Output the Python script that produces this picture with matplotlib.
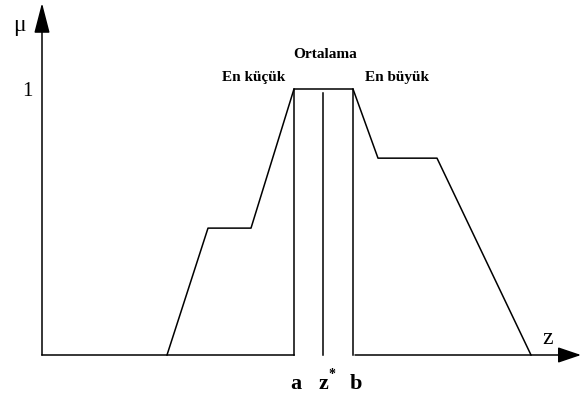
import matplotlib.pyplot as plt

# membership function outline (z, mu)
z_pts = [167, 208, 251, 294, 353, 378, 437, 531]
mu_pts = [0.0, 0.477, 0.477, 1.0, 1.0, 0.74, 0.74, 0.0]

# defuzzification markers
a_z, zstar_z, b_z = 294, 323, 353
zstar_top = 0.985

fig = plt.figure(figsize=(5.81, 3.98), dpi=100)
ax = fig.add_axes([0, 0, 1, 1])
ax.set_xlim(0, 581)
ax.set_ylim(-43 / 266, 355 / 266)
ax.axis('off')

lw = 1.1
ax.plot(z_pts, mu_pts, color='black', lw=lw)
ax.plot([a_z, a_z], [0, 1], color='black', lw=lw)
ax.plot([b_z, b_z], [0, 1], color='black', lw=lw)
ax.plot([zstar_z, zstar_z], [0, zstar_top], color='black', lw=lw)

# baseline, broken between a and b
ax.plot([42, a_z], [0, 0], color='black', lw=lw)
ax.annotate('', xy=(581, 0), xytext=(b_z + 2, 0), annotation_clip=False,
            arrowprops=dict(arrowstyle='-|>,head_length=0.65,head_width=0.22',
                            color='black', lw=lw,
                            mutation_scale=22, shrinkA=0, shrinkB=0))
# mu axis
ax.annotate('', xy=(42, 352 / 266), xytext=(42, 0), annotation_clip=False,
            arrowprops=dict(arrowstyle='-|>,head_length=0.85,head_width=0.22',
                            color='black', lw=lw,
                            mutation_scale=22, shrinkA=0, shrinkB=0))

serif = 'Liberation Serif'
ax.text(19, 330 / 266, 'μ', fontsize=17, family=serif, ha='center', va='center')
ax.text(27, 0.99, '1', fontsize=15, family=serif, ha='center', va='center')
ax.text(548, 17 / 266, 'z', fontsize=17, family=serif, ha='center', va='center')

ax.text(325, 300 / 266, 'Ortalama', fontsize=11, family=serif, weight='bold',
        ha='center', va='center')
ax.text(254, 277 / 266, 'En küçük', fontsize=11, family=serif, weight='bold',
        ha='center', va='center')
ax.text(397, 277 / 266, 'En büyük', fontsize=11, family=serif, weight='bold',
        ha='center', va='center')

ax.text(296, -29 / 266, 'a', fontsize=16, family=serif, weight='bold',
        ha='center', va='center')
ax.text(323, -29 / 266, 'z', fontsize=16, family=serif, weight='bold',
        ha='center', va='center')
ax.text(332, -20 / 266, '*', fontsize=10, family=serif, weight='bold',
        ha='center', va='center')
ax.text(356, -29 / 266, 'b', fontsize=16, family=serif, weight='bold',
        ha='center', va='center')

fig.savefig('out.png', dpi=100, facecolor='white')
